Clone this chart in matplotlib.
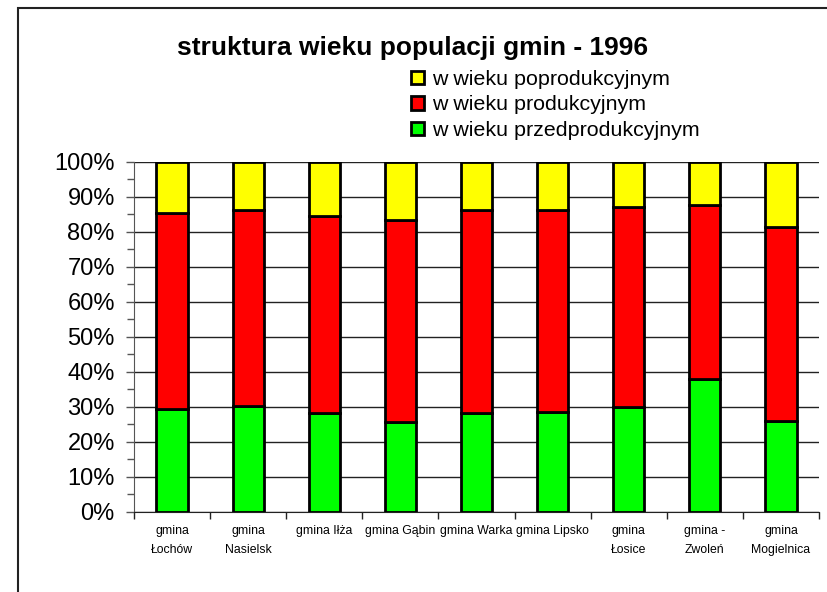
import matplotlib
matplotlib.use("Agg")
import matplotlib.pyplot as plt
from matplotlib.patches import Rectangle
from matplotlib.ticker import MultipleLocator, FuncFormatter
import numpy as np

plt.rcParams['font.family'] = ['Liberation Sans', 'DejaVu Sans']

categories = ["gmina\nŁochów", "gmina\nNasielsk", "gmina Iłża", "gmina Gąbin",
              "gmina Warka", "gmina Lipsko", "gmina\nŁosice", "gmina -\nZwoleń",
              "gmina\nMogielnica"]
przedprodukcyjny = [29.3, 30.2, 28.3, 25.7, 28.1, 28.5, 30.0, 37.8, 25.9]
produkcyjny = [56.1, 55.9, 56.3, 57.6, 58.2, 57.8, 57.1, 49.7, 55.4]
poprodukcyjny = [14.6, 13.9, 15.4, 16.7, 13.7, 13.7, 12.9, 12.5, 18.7]

series_names = ["w wieku przedprodukcyjnym", "w wieku produkcyjnym",
                "w wieku poprodukcyjnym"]
colors = ["#00ff00", "#ff0000", "#ffff00"]

W, H = 827, 592
fig = plt.figure(figsize=(W / 100, H / 100), dpi=100)

# outer chart frame (runs past the right and bottom edges)
fig.patches.append(Rectangle((18 / W, -0.1), 1.2, 1.1 - 8 / H,
                             transform=fig.transFigure, fill=False,
                             edgecolor="#222222", linewidth=1.5))

ax = fig.add_axes([134 / W, 1 - 511.7 / H, (819 - 134) / W, (511.7 - 161.7) / H])

x = np.arange(len(categories))
bottom = np.zeros(len(categories))
handles = []
for vals, col, name in zip([przedprodukcyjny, produkcyjny, poprodukcyjny], colors, series_names):
    b = ax.bar(x, vals, width=0.41, bottom=bottom, color=col, edgecolor="black",
               linewidth=2, label=name, zorder=3)
    handles.append(b)
    bottom = bottom + np.array(vals)

ax.set_xlim(-0.5, len(categories) - 0.5)
ax.set_ylim(0, 100)
ax.yaxis.set_major_locator(MultipleLocator(10))
ax.yaxis.set_minor_locator(MultipleLocator(5))
ax.yaxis.set_major_formatter(FuncFormatter(lambda v, p: f"{int(round(v))}%"))
ax.grid(axis="y", which="major", color="#222222", linewidth=1, zorder=0)
ax.set_axisbelow(True)

for s in ["top", "right"]:
    ax.spines[s].set_visible(False)
ax.spines["left"].set_color("#555555")
ax.spines["bottom"].set_color("#222222")

ax.tick_params(axis="y", which="major", length=6, width=1, color="#555555",
               labelsize=17, pad=7.8)
ax.tick_params(axis="y", which="minor", length=5, width=1, color="#555555")

# category boundaries as x ticks, names centered under bars
ax.set_xticks(np.arange(len(categories) + 1) - 0.5)
ax.set_xticklabels([])
ax.tick_params(axis="x", which="major", length=5, width=1, color="#222222")
ax.set_xticks(x, minor=True)
ax.set_xticklabels(categories, minor=True, fontsize=8.8, linespacing=1.75, va="top")
ax.tick_params(axis="x", which="minor", length=0, pad=9.5)

fig.text(413 / W, 1 - 48 / H, "struktura wieku populacji gmin - 1996",
         ha="center", va="center", fontsize=19, fontweight="bold")

leg = fig.legend(handles[::-1], [h.get_label() for h in handles[::-1]],
                 loc="upper left", bbox_to_anchor=(411 / W, 1 - 70 / H),
                 frameon=False, fontsize=15.4, handlelength=0.6, handleheight=0.6,
                 handletextpad=0.4, labelspacing=0.3, borderaxespad=0, borderpad=0)

fig.savefig("out.png", dpi=100)
